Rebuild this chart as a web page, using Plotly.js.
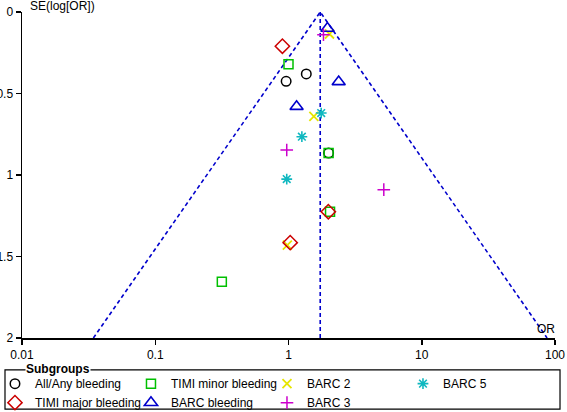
<!DOCTYPE html>
<html>
<head>
<meta charset="utf-8">
<script src="https://cdn.plot.ly/plotly-3.0.1.min.js"></script>
<style>html,body{margin:0;padding:0;background:#fff;}#chart{width:567px;height:412px;}</style>
</head>
<body>
<div id="chart"></div>
<script>
// Pooled odds ratio (funnel centre)
const pooledOR = 1.73;
const seMax = 2;

// Subgroup data: odds ratio and standard error of log(OR)
const allAnyOR = [1.36, 0.96, 2.00];
const allAnySE = [0.38, 0.425, 0.865];
const timiMajorOR = [0.90, 1.99, 1.03];
const timiMajorSE = [0.21, 1.225, 1.415];
const timiMinorOR = [1.00, 2.00, 2.05, 0.316];
const timiMinorSE = [0.32, 0.865, 1.225, 1.655];
const barcBleedingOR = [1.96, 2.38, 1.15];
const barcBleedingSE = [0.10, 0.428, 0.58];
const barc2OR = [2.03, 1.55, 0.98];
const barc2SE = [0.135, 0.64, 1.43];
const barc3OR = [1.83, 0.97, 5.19];
const barc3SE = [0.14, 0.847, 1.09];
const barc5OR = [1.76, 1.26, 0.97];
const barc5SE = [0.62, 0.765, 1.025];

const xTickVals = [0.01, 0.1, 1, 10, 100];
const xTickText = ['0.01', '0.1', '1', '10', '100'];
const yTickVals = [0, 0.5, 1, 1.5, 2];
const yTickText = ['0', '0.5', '1', '1.5', '2'];

const FONT = '"Liberation Sans", Arial, Helvetica, sans-serif';
const lineStyle = {color: '#0000cc', width: 1.6, dash: '4px,3px'};
const lo = pooledOR * Math.exp(-1.96 * seMax);
const hi = pooledOR * Math.exp(1.96 * seMax);

function mk(name, x, y, symbol, color, size, lw) {
  return {type: 'scatter', mode: 'markers', name: name, x: x, y: y, cliponaxis: false,
    marker: {symbol: symbol, size: size, color: color, line: {color: color, width: lw}}};
}

const traces = [
  {type: 'scatter', mode: 'lines', x: [lo, pooledOR, hi], y: [seMax, 0, seMax], line: lineStyle, showlegend: false, hoverinfo: 'skip'},
  {type: 'scatter', mode: 'lines', x: [pooledOR, pooledOR], y: [0, seMax], line: lineStyle, showlegend: false, hoverinfo: 'skip'},
  mk('All/Any bleeding', allAnyOR, allAnySE, 'circle-open', '#000000', 9.5, 1.5),
  mk('TIMI minor bleeding', timiMinorOR, timiMinorSE, 'square-open', '#00c000', 9, 1.5),
  mk('BARC 2', barc2OR, barc2SE, 'x-thin-open', '#e6e600', 9, 1.8),
  mk('BARC 5', barc5OR, barc5SE, 'asterisk-open', '#10b8c0', 9, 1.6),
  mk('TIMI major bleeding', timiMajorOR, timiMajorSE, 'diamond-open', '#cc0000', 11, 1.5),
  mk('BARC bleeding', barcBleedingOR, barcBleedingSE, 'triangle-up-open', '#0000cc', 11.5, 1.6),
  mk('BARC 3', barc3OR, barc3SE, 'cross-thin-open', '#cc00cc', 9, 1.5)
];

const layout = {
  width: 567, height: 412,
  margin: {l: 22, r: 12, t: 12, b: 74, autoexpand: false},
  paper_bgcolor: '#ffffff', plot_bgcolor: '#ffffff',
  font: {family: FONT, size: 12, color: '#000000'},
  showlegend: true,
  xaxis: {type: 'log', range: [-2, 2], tickvals: xTickVals, ticktext: xTickText,
    showgrid: false, zeroline: false, showline: true, linecolor: '#000000', linewidth: 1.5,
    ticks: 'outside', ticklen: 5, tickwidth: 1.5, tickcolor: '#000000',
    tickfont: {family: FONT, size: 12, color: '#000000'}},
  yaxis: {range: [2, 0], tickvals: yTickVals, ticktext: yTickText,
    showgrid: false, zeroline: false, showline: true, linecolor: '#000000', linewidth: 1.5,
    ticks: 'outside', ticklen: 5, tickwidth: 1.5, tickcolor: '#000000',
    tickfont: {family: FONT, size: 12, color: '#000000'}},
  legend: {orientation: 'h', x: -0.0507, xanchor: 'left', y: -0.0955, yanchor: 'top',
    bgcolor: 'rgba(0,0,0,0)', borderwidth: 0, entrywidth: 91, entrywidthmode: 'pixels',
    font: {family: FONT, size: 12, color: '#000000'}, itemclick: false},
  shapes: [
    {type: 'rect', xref: 'paper', yref: 'paper', x0: -0.0319, x1: 1.0094, y0: -0.098, y1: -0.218,
      line: {color: '#000000', width: 1.2}, fillcolor: 'rgba(0,0,0,0)', layer: 'below'}
  ],
  annotations: [
    {text: 'SE(log[OR])', xref: 'paper', yref: 'paper', x: 0.011, y: 1.017, xanchor: 'left', yanchor: 'middle',
      showarrow: false, font: {family: FONT, size: 12, color: '#000000'}},
    {text: 'OR', xref: 'paper', yref: 'paper', x: 1.004, y: 0.028, xanchor: 'right', yanchor: 'middle',
      showarrow: false, font: {family: FONT, size: 12, color: '#000000'}},
    {text: '<b>Subgroups</b>', xref: 'paper', yref: 'paper', x: 0.0056, y: -0.095, xanchor: 'left', yanchor: 'middle',
      showarrow: false, bgcolor: '#ffffff', borderpad: 0, font: {family: FONT, size: 12, color: '#000000'}}
  ]
};

Plotly.newPlot('chart', traces, layout, {staticPlot: true, displayModeBar: false});
</script>
</body>
</html>
